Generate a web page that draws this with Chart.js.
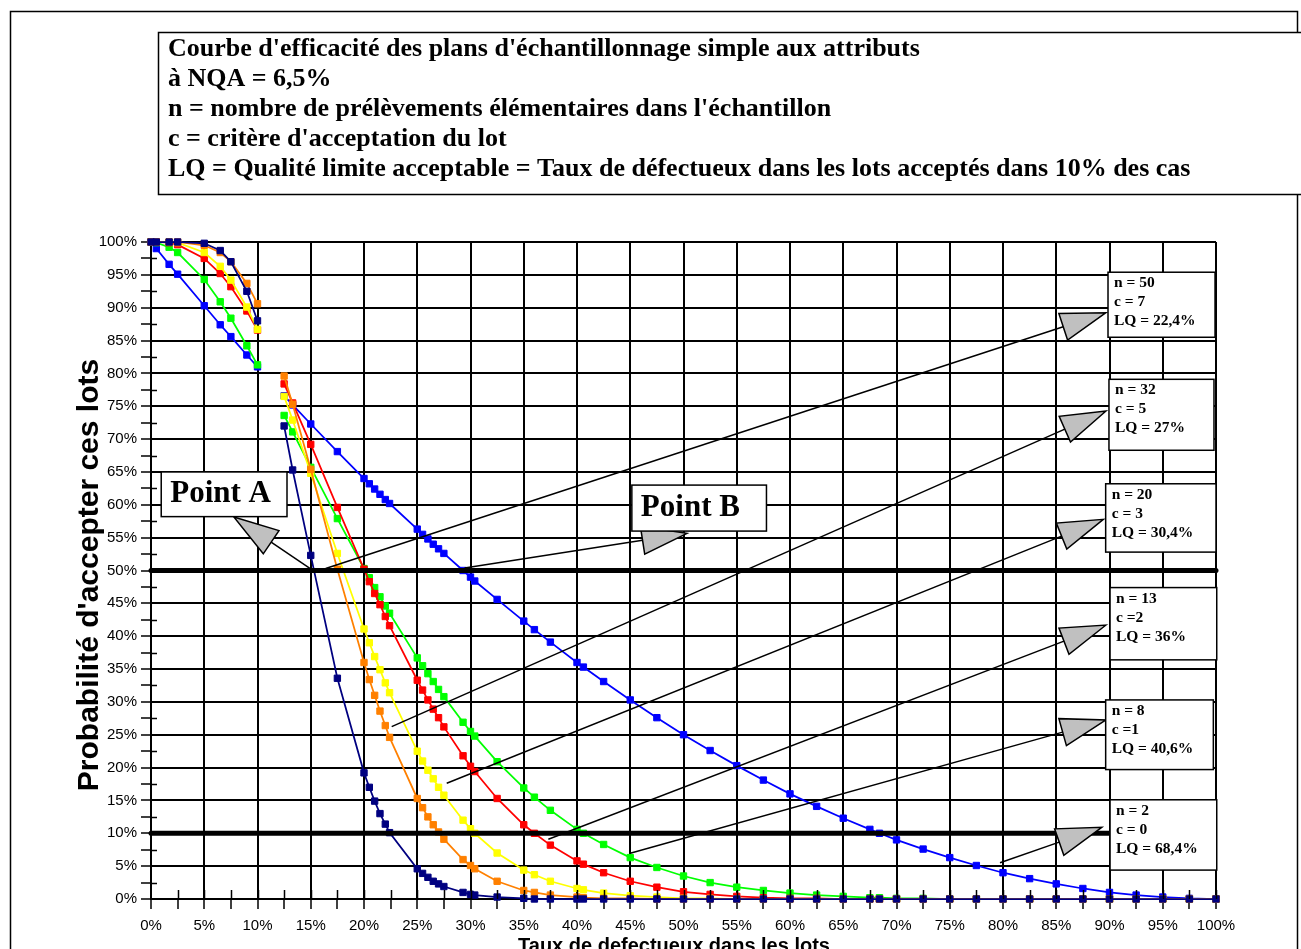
<!DOCTYPE html>
<html>
<head>
<meta charset="utf-8">
<script src="https://cdn.jsdelivr.net/npm/chart.js@4.4.1/dist/chart.umd.min.js"></script>
<style>
  html, body { margin: 0; padding: 0; background: #fff; }
</style>
</head>
<body>
<canvas id="oc" width="1301" height="949"></canvas>
<script>
// taux de defectueux (%) - abscisses communes a toutes les courbes
var tauxDefectueux = [0, 0.5, 1.7, 2.5, 5, 6.5, 7.5, 9, 10, 11, 12.5, 13.3, 15, 17.5,
    20, 20.5, 21, 21.5, 22, 22.4, 25, 25.5, 26, 26.5, 27, 27.5, 29.3, 30, 30.4,
    32.5, 35, 36, 37.5, 40, 40.6, 42.5, 45, 47.5, 50, 52.5, 55, 57.5, 60, 62.5,
    65, 67.5, 68.4, 70, 72.5, 75, 77.5, 80, 82.5, 85, 87.5, 90, 92.5, 95, 97.5, 100];

// probabilite d'acceptation (%), null = coupure
var planN2C0 = [100, 99.0, 96.6, 95.1, 90.3, 87.4, 85.6, 82.8, 81.0, null, 76.6, 75.2, 72.3, 68.1,
    64.0, 63.2, 62.4, 61.6, 60.8, 60.2, 56.3, 55.5, 54.8, 54.0, 53.3, 52.6, 50.0, 49.0, 48.4,
    45.6, 42.3, 41.0, 39.1, 36.0, 35.3, 33.1, 30.3, 27.6, 25.0, 22.6, 20.3, 18.1, 16.0, 14.1,
    12.3, 10.6, 10.0, 9.0, 7.6, 6.3, 5.1, 4.0, 3.1, 2.3, 1.6, 1.0, 0.6, 0.3, 0.1, 0];
var planN8C1 = [100, 99.9, 99.2, 98.4, 94.3, 90.9, 88.4, 84.2, 81.3, null, 73.6, 71.1, 65.7, 57.9,
    50.3, 48.9, 47.4, 46.0, 44.6, 43.5, 36.7, 35.5, 34.3, 33.1, 31.9, 30.8, 26.9, 25.5, 24.8,
    20.9, 16.9, 15.5, 13.5, 10.6, 10.0, 8.3, 6.3, 4.8, 3.5, 2.5, 1.8, 1.3, 0.9, 0.6,
    0.4, 0.2, 0.2, 0.1, 0.1, 0, 0, 0, 0, 0, 0, 0, 0, 0, 0, 0];
var planN13C2 = [100, 100, 99.9, 99.6, 97.5, 95.2, 93.2, 89.5, 86.6, null, 78.4, 75.5, 69.2, 59.6,
    50.2, 48.3, 46.5, 44.8, 43.0, 41.6, 33.3, 31.8, 30.3, 28.9, 27.6, 26.2, 21.8, 20.2, 19.4,
    15.3, 11.3, 10.0, 8.2, 5.8, 5.3, 4.0, 2.7, 1.8, 1.1, 0.7, 0.4, 0.2, 0.1, 0.1,
    0, 0, 0, 0, 0, 0, 0, 0, 0, 0, 0, 0, 0, 0, 0, 0];
var planN20C3 = [100, 100, 100, 99.9, 98.4, 96.3, 94.2, 90.1, 86.7, null, 76.5, 72.9, 64.8, 52.6,
    41.1, 39.0, 36.9, 34.9, 32.9, 31.4, 22.5, 21.0, 19.6, 18.3, 17.0, 15.8, 12.0, 10.7, 10.0,
    7.0, 4.4, 3.7, 2.7, 1.6, 1.4, 0.9, 0.5, 0.3, 0.1, 0.1, 0, 0, 0, 0,
    0, 0, 0, 0, 0, 0, 0, 0, 0, 0, 0, 0, 0, 0, 0, 0];
var planN32C5 = [100, 100, 100, 100, 99.5, 98.4, 97.0, 93.7, 90.6, null, 79.6, 75.3, 65.4, 50.2,
    36.0, 33.4, 31.0, 28.6, 26.4, 24.6, 15.3, 13.9, 12.5, 11.3, 10.2, 9.1, 6.0, 5.1, 4.6,
    2.7, 1.3, 1.0, 0.6, 0.3, 0.2, 0.1, 0.1, 0, 0, 0, 0, 0, 0, 0,
    0, 0, 0, 0, 0, 0, 0, 0, 0, 0, 0, 0, 0, 0, 0, 0];
var planN50C7 = [100, 100, 100, 100, 99.8, 98.7, 97.0, 92.5, 88.0, null, 72.0, 65.3, 52.3, 33.6,
    19.2, 17.0, 14.9, 13.0, 11.4, 10.1, 4.6, 3.9, 3.3, 2.7, 2.3, 1.9, 1.0, 0.7, 0.6,
    0.3, 0.1, 0, 0, 0, 0, 0, 0, 0, 0, 0, 0, 0, 0, 0,
    0, 0, 0, 0, 0, 0, 0, 0, 0, 0, 0, 0, 0, 0, 0, 0];

// lignes de reference (Point A / Point B a 50%, LQ a 10%)
var ligne50X = [0, 100];
var ligne50Y = [50, 50];
var ligne10X = [0, 90];
var ligne10Y = [10, 10];

var axisTicks = [0, 5, 10, 15, 20, 25, 30, 35, 40, 45, 50, 55, 60, 65, 70, 75, 80, 85, 90, 95, 100];

var titleLines = [
    "Courbe d'efficacité des plans d'échantillonnage simple aux attributs",
    "à NQA = 6,5%",
    "n = nombre de prélèvements élémentaires dans l'échantillon",
    "c = critère d'acceptation du lot",
    "LQ = Qualité limite acceptable = Taux de défectueux dans les lots acceptés dans 10% des cas"
];

function toPoints(xs, ys) {
    return xs.map(function(x, i) { return { x: x, y: ys[i] }; });
}

function curve(label, color, ys, order) {
    return {
        label: label,
        data: toPoints(tauxDefectueux, ys),
        borderColor: color,
        backgroundColor: color,
        borderWidth: 1.75,
        pointStyle: 'rect',
        pointRadius: 4.5,
        pointBorderWidth: 1,
        pointBorderColor: color,
        pointBackgroundColor: color,
        tension: 0,
        spanGaps: false,
        clip: false,
        order: order
    };
}

function refLine(xs, ys) {
    return {
        data: toPoints(xs, ys),
        borderColor: '#000',
        borderWidth: 5,
        borderCapStyle: 'round',
        pointRadius: 0,
        clip: false,
        order: 0
    };
}

// boites de texte et fleches (coordonnees en unites du graphique)
var callouts = [
    { box: [89.86, 95.4, 99.91, 85.5], lines: ['n = 50', 'c = 7', 'LQ = 22,4%'], from: [16.4, 50.3], to: [89.67, 89.24] },
    { box: [89.95, 79.1, 99.81, 68.3], lines: ['n = 32', 'c = 5', 'LQ = 27%'], from: [22.6, 26.23], to: [89.67, 74.28] },
    { box: [89.64, 63.2, 100, 52.8], lines: ['n = 20', 'c = 3', 'LQ = 30,4%'], from: [27.77, 17.61], to: [89.42, 57.79] },
    { box: [90.05, 47.4, 100.07, 36.4], lines: ['n = 13', 'c =2', 'LQ = 36%'], from: [37.31, 9.09], to: [89.67, 41.7] },
    { box: [89.64, 30.3, 99.75, 19.7], lines: ['n = 8', 'c =1', 'LQ = 40,6%'], from: [45.0, 6.96], to: [89.67, 27.25] },
    { box: [90.05, 15.1, 100.07, 4.4], lines: ['n = 2', 'c = 0', 'LQ = 68,4%'], from: [79.72, 5.53], to: [89.27, 10.91] }
];
var pointLabels = [
    { box: [0.96, 65.0, 12.77, 58.2], text: 'Point A', from: [14.99, 50.23], to: [7.78, 58.14] },
    { box: [45.15, 63.0, 57.79, 56.0], text: 'Point B', from: [29.44, 50.38], to: [50.33, 55.66] }
];

function drawArrow(c, x0, y0, x1, y1) {
    var dx = x1 - x0, dy = y1 - y0;
    var len = Math.sqrt(dx * dx + dy * dy);
    var ux = dx / len, uy = dy / len;
    var bx = x1 - 45 * ux, by = y1 - 45 * uy;
    c.beginPath();
    c.moveTo(x0, y0);
    c.lineTo(bx, by);
    c.lineWidth = 1.5;
    c.strokeStyle = '#000';
    c.stroke();
    c.beginPath();
    c.moveTo(x1, y1);
    c.lineTo(bx - 14 * uy, by + 14 * ux);
    c.lineTo(bx + 14 * uy, by - 14 * ux);
    c.closePath();
    c.fillStyle = '#c0c0c0';
    c.fill();
    c.stroke();
}

var decorPlugin = {
    id: 'decor',
    beforeDraw: function(chart) {
        var c = chart.ctx;
        c.save();
        c.fillStyle = '#fff';
        c.fillRect(0, 0, chart.width, chart.height);
        c.restore();
    },
    afterDraw: function(chart) {
        var c = chart.ctx;
        var sx = chart.scales.x, sy = chart.scales.y;
        var X = function(v) { return sx.getPixelForValue(v); };
        var Y = function(v) { return sy.getPixelForValue(v); };
        var area = chart.chartArea;
        c.save();

        // cadre exterieur et cadre du titre
        c.strokeStyle = '#000';
        c.lineWidth = 1.5;
        c.strokeRect(10.5, 11.5, 1287, 960);
        c.fillStyle = '#fff';
        c.fillRect(158, 32, 1160, 162);
        c.strokeRect(158.5, 32.5, 1160, 162);
        c.fillStyle = '#000';
        c.font = 'bold 26px "Liberation Serif"';
        c.textBaseline = 'middle';
        c.textAlign = 'left';
        var ty = [49, 79, 109, 139, 169];
        titleLines.forEach(function(t, i) { c.fillText(t, 168, ty[i]); });

        // titres des axes
        c.font = 'bold 30px "Liberation Sans"';
        c.textAlign = 'center';
        c.save();
        c.translate(90, 575);
        c.rotate(-Math.PI / 2);
        c.fillText("Probabilité d'accepter ces lots", 0, 0);
        c.restore();
        c.font = 'bold 20px "Liberation Sans"';
        c.textBaseline = 'alphabetic';
        c.fillText('Taux de defectueux dans les lots', 674, 952);

        // petites graduations traversant les axes
        c.lineWidth = 1.5;
        c.beginPath();
        for (var v = 2.5; v <= 100; v += 2.5) {
            c.moveTo(Math.round(X(v)) + 0.5, area.bottom - 9);
            c.lineTo(Math.round(X(v)) + 0.5, area.bottom);
        }
        for (var w = 2.5; w < 100; w += 5) {
            c.moveTo(area.left, Math.round(Y(w)) + 0.5);
            c.lineTo(area.left + 6, Math.round(Y(w)) + 0.5);
        }
        c.stroke();

        // fleches et boites
        callouts.concat(pointLabels).forEach(function(a) {
            drawArrow(c, X(a.from[0]), Y(a.from[1]), X(a.to[0]), Y(a.to[1]));
        });
        callouts.forEach(function(a) {
            var x1 = X(a.box[0]), y1 = Y(a.box[1]), x2 = X(a.box[2]), y2 = Y(a.box[3]);
            c.fillStyle = '#fff';
            c.fillRect(x1, y1, x2 - x1, y2 - y1);
            c.lineWidth = 1.5;
            c.strokeStyle = '#000';
            c.strokeRect(x1, y1, x2 - x1, y2 - y1);
            c.fillStyle = '#000';
            c.font = 'bold 15.5px "Liberation Serif"';
            c.textAlign = 'left';
            c.textBaseline = 'middle';
            a.lines.forEach(function(t, i) { c.fillText(t, x1 + 6, y1 + 11 + i * 19); });
        });
        pointLabels.forEach(function(a) {
            var x1 = X(a.box[0]), y1 = Y(a.box[1]), x2 = X(a.box[2]), y2 = Y(a.box[3]);
            c.fillStyle = '#fff';
            c.fillRect(x1, y1, x2 - x1, y2 - y1);
            c.lineWidth = 1.5;
            c.strokeStyle = '#000';
            c.strokeRect(x1, y1, x2 - x1, y2 - y1);
            c.fillStyle = '#000';
            c.font = 'bold 31px "Liberation Serif"';
            c.textAlign = 'left';
            c.textBaseline = 'middle';
            c.fillText(a.text, x1 + 9, (y1 + y2) / 2);
        });
        c.restore();
    }
};

var pct = function(value) {
    return axisTicks.indexOf(Math.round(value * 10) / 10) >= 0 ? value + '%' : '';
};
var gridColor = function(ctx) {
    return axisTicks.indexOf(Math.round(ctx.tick.value * 10) / 10) >= 0 ? '#000' : 'rgba(0,0,0,0)';
};

new Chart(document.getElementById('oc'), {
    type: 'line',
    data: {
        datasets: [
            refLine(ligne50X, ligne50Y),
            refLine(ligne10X, ligne10Y),
            curve('n = 50, c = 7', '#000080', planN50C7, 1),
            curve('n = 32, c = 5', '#ff8000', planN32C5, 2),
            curve('n = 20, c = 3', '#ffff00', planN20C3, 3),
            curve('n = 13, c = 2', '#ff0000', planN13C2, 4),
            curve('n = 8, c = 1', '#00ff00', planN8C1, 5),
            curve('n = 2, c = 0', '#0000ff', planN2C0, 6)
        ]
    },
    options: {
        responsive: false,
        animation: false,
        devicePixelRatio: 1,
        layout: { padding: { left: 0, right: 85, top: 242, bottom: 0 } },
        plugins: { legend: { display: false }, tooltip: { enabled: false } },
        scales: {
            x: {
                type: 'linear',
                min: 0,
                max: 100,
                afterFit: function(scale) { scale.height = 50; },
                ticks: {
                    stepSize: 2.5,
                    autoSkip: false,
                    maxRotation: 0,
                    padding: 8,
                    color: '#000',
                    font: { family: '"Liberation Sans"', size: 15 },
                    callback: pct
                },
                grid: { color: gridColor, tickColor: '#000', lineWidth: 2, tickWidth: 1.5, tickLength: 10 },
                border: { color: '#000', width: 2 }
            },
            y: {
                min: 0,
                max: 100,
                afterFit: function(scale) { scale.width = 151; },
                ticks: {
                    stepSize: 2.5,
                    autoSkip: false,
                    padding: 4,
                    color: '#000',
                    font: { family: '"Liberation Sans"', size: 15 },
                    callback: pct
                },
                grid: { color: gridColor, tickColor: '#000', lineWidth: 2, tickWidth: 1.5, tickLength: 10 },
                border: { color: '#000', width: 2 }
            }
        }
    },
    plugins: [decorPlugin]
});
</script>
</body>
</html>
